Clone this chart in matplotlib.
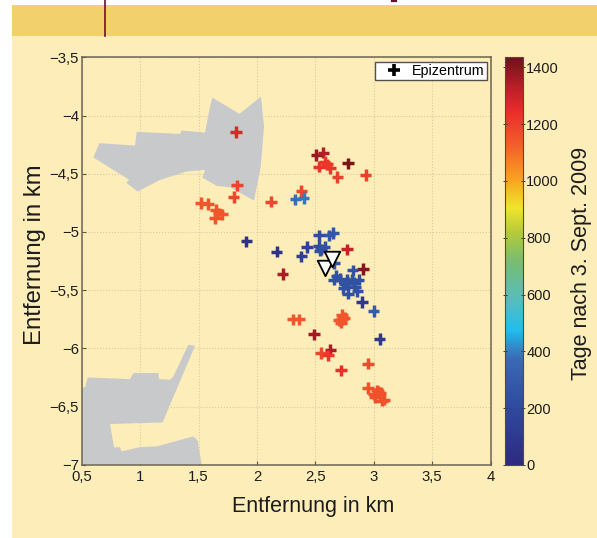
import matplotlib
matplotlib.use("Agg")
import matplotlib.pyplot as plt
from matplotlib.colors import LinearSegmentedColormap
from matplotlib.lines import Line2D
from matplotlib.patches import Polygon, Rectangle

plt.rcParams['font.family'] = ['Liberation Sans', 'DejaVu Sans']

# Epizentren: x, y in km, Tage nach 3. Sept. 2009
ev_x = [1.82, 1.83, 1.80, 1.52, 1.58, 1.65, 1.70, 1.64, 1.67, 2.12, 2.33, 2.51, 2.57, 2.78,
        2.58, 2.53, 2.60, 2.63, 2.69, 2.93, 2.38, 2.40, 2.53, 2.62, 2.65, 2.43, 2.53, 2.55,
        2.58, 2.54, 2.17, 2.38, 2.77, 2.22, 2.91, 2.66, 2.82, 2.68, 2.66, 2.71, 2.77, 2.81,
        2.87, 2.74, 2.78, 2.78, 2.84, 2.86, 2.75, 2.83, 2.90, 3.00, 3.05, 2.31, 2.36, 2.73,
        2.70, 2.75, 2.73, 2.72, 2.49, 2.63, 2.55, 2.61, 2.72, 2.95, 2.95, 3.03, 3.00, 3.06,
        3.01, 3.07, 3.04, 3.09, 1.91]
ev_y = [-4.14, -4.60, -4.70, -4.75, -4.76, -4.81, -4.85, -4.88, -4.84, -4.74, -4.72, -4.34,
        -4.32, -4.41, -4.40, -4.44, -4.42, -4.45, -4.53, -4.51, -4.65, -4.71, -5.03, -5.03,
        -5.01, -5.13, -5.12, -5.15, -5.13, -5.16, -5.17, -5.21, -5.15, -5.36, -5.32, -5.27,
        -5.33, -5.38, -5.41, -5.40, -5.41, -5.41, -5.41, -5.48, -5.44, -5.53, -5.47, -5.51,
        -5.45, -5.44, -5.60, -5.68, -5.92, -5.75, -5.75, -5.75, -5.76, -5.74, -5.71, -5.78,
        -5.88, -6.01, -6.04, -6.06, -6.19, -6.13, -6.34, -6.36, -6.39, -6.38, -6.42, -6.45,
        -6.37, -6.44, -5.08]
ev_days = [1270, 1190, 1180, 1150, 1150, 1150, 1150, 1150, 1150, 1180, 380, 1370, 1340, 1420,
           1220, 1230, 1220, 1220, 1200, 1200, 1180, 390, 220, 270, 270, 150, 220, 240,
           240, 240, 60, 130, 1310, 1350, 1400, 260, 240, 250, 250, 250, 240, 240,
           240, 240, 240, 240, 240, 240, 240, 240, 100, 300, 90, 1150, 1150, 1150,
           1150, 1150, 1150, 1150, 1360, 1350, 1180, 1220, 1240, 1170, 1160, 1160, 1160, 1160,
           1160, 1160, 1160, 1160, 60]

# Stationen (Dreiecke)
st_x = [2.58, 2.64]
st_y = [-5.31, -5.23]

# graue Flaechen
area1_x = [1.619, 1.85, 2.035, 2.061, 2.033, 1.975, 1.77, 1.656, 1.533, 1.556, 1.399, 1.171,
           0.979, 0.88, 0.908, 0.6, 0.651, 0.957, 0.971, 1.342, 1.356, 1.556, 1.599]
area1_y = [-3.846, -3.986, -3.838, -4.095, -4.438, -4.73, -4.616, -4.604, -4.533, -4.467,
           -4.481, -4.553, -4.653, -4.576, -4.553, -4.361, -4.238, -4.258, -4.141, -4.158,
           -4.129, -4.147, -3.923]
area2_x = [0.5, 0.529, 0.551, 0.914, 0.942, 1.156, 1.162, 1.256, 1.285, 1.413, 1.47, 1.193,
           0.743, 0.777, 0.828, 0.842, 1.0, 1.142, 1.456, 1.493, 1.527, 0.5]
area2_y = [-6.341, -6.333, -6.25, -6.264, -6.212, -6.212, -6.264, -6.27, -6.241, -5.969,
           -5.978, -6.636, -6.65, -6.851, -6.848, -6.885, -6.848, -6.842, -6.756, -6.791,
           -7.0, -7.0]

x_ticks = [0.5, 1, 1.5, 2, 2.5, 3, 3.5, 4]
x_labels = ['0,5', '1', '1,5', '2', '2,5', '3', '3,5', '4']
y_ticks = [-7, -6.5, -6, -5.5, -5, -4.5, -4, -3.5]
y_labels = ['\u22127', '\u22126,5', '\u22126', '\u22125,5', '\u22125', '\u22124,5', '\u22124', '\u22123,5']
cb_ticks = [0, 200, 400, 600, 800, 1000, 1200, 1400]
days_max = 1437

# Farbskala
cmap = LinearSegmentedColormap.from_list('tage', [
    (0.00, '#2e2a80'), (0.14, '#2f4a9e'), (0.26, '#3a6ab4'), (0.33, '#22bdee'),
    (0.40, '#55bdc0'), (0.50, '#79bd6e'), (0.57, '#b5ca3a'), (0.63, '#efe52a'),
    (0.70, '#f9a31f'), (0.78, '#f2622b'), (0.87, '#ea2a2a'), (0.93, '#b51f27'),
    (1.00, '#6e1219')])

W, H = 597, 538
fig = plt.figure(figsize=(W / 100, H / 100), dpi=100, facecolor='white')

# Seitenhintergrund
fig.add_artist(Rectangle((12 / W, 0), 585 / W, 1 - 4.5 / H, transform=fig.transFigure,
                         fc='#fdedb9', ec='none', zorder=-3))
fig.add_artist(Rectangle((12 / W, 1 - 36 / H), 585 / W, 31.5 / H, transform=fig.transFigure,
                         fc='#f2d06c', ec='none', zorder=-2))
fig.add_artist(Line2D([105 / W, 105 / W], [1 - 36 / H, 1], transform=fig.transFigure,
                      color='#6b1030', lw=1.2, zorder=-1))
fig.add_artist(Line2D([392 / W, 396 / W], [1 - 1 / H, 1 - 1 / H], transform=fig.transFigure,
                      color='#6b1030', lw=1.6, zorder=-1))

ax = fig.add_axes([81.7 / W, 1 - 464.8 / H, 408.8 / W, 407.5 / H])
ax.set_facecolor('none')
ax.add_patch(Polygon(list(zip(area1_x, area1_y)), fc='#c8c9cb', ec='none', zorder=1))
ax.add_patch(Polygon(list(zip(area2_x, area2_y)), fc='#c8c9cb', ec='none', zorder=1))

sc = ax.scatter(ev_x, ev_y, c=ev_days, cmap=cmap, vmin=0, vmax=days_max, marker='+',
                s=68, linewidths=2.5, zorder=3)
ax.scatter(st_x, st_y, marker='v', s=125, facecolor='white', edgecolor='black',
           linewidths=1.3, zorder=4)

ax.set_xlim(0.5, 4)
ax.set_ylim(-7, -3.5)
ax.set_xticks(x_ticks)
ax.set_xticklabels(x_labels)
ax.set_yticks(y_ticks)
ax.set_yticklabels(y_labels)
ax.grid(True, ls=':', lw=0.8, color='#d6cba3', zorder=0)
ax.set_axisbelow(True)
ax.tick_params(direction='in', length=3, width=0.8, color='#5d5648', labelsize=10.7,
               labelcolor='#1c1c1c')
ax.tick_params(axis='x', pad=4)
ax.tick_params(axis='y', pad=2)
for s in ax.spines.values():
    s.set_color('#6b6454')
    s.set_linewidth(1.1)
ax.set_xlabel('Entfernung in km', fontsize=15.5, color='#1c1c1c')
ax.xaxis.set_label_coords(0.566, -0.076)
ax.set_ylabel('Entfernung in km', fontsize=17.2, color='#1c1c1c')
ax.yaxis.set_label_coords(-0.088, 0.515)

handle = Line2D([], [], marker='+', color='black', ls='none', ms=8, mew=2.6)
ax.legend([handle], ['Epizentrum'], loc='upper right', bbox_to_anchor=(0.9907, 0.989),
          borderaxespad=0, fontsize=10.3, frameon=True, fancybox=False, framealpha=1,
          edgecolor='#55504a', borderpad=0.15, handletextpad=0.05, handlelength=2.4)

cax = fig.add_axes([504.5 / W, 1 - 465 / H, 18.2 / W, 408.3 / H])
cb = fig.colorbar(sc, cax=cax)
cb.set_ticks(cb_ticks)
cb.ax.tick_params(direction='inout', length=3, width=0.7, color='#3a3a3a', labelsize=10.5,
                  labelcolor='#1c1c1c', pad=1, right=True, left=True)
cb.outline.set_edgecolor('#4a4a4a')
cb.outline.set_linewidth(0.8)
fig.text(581 / W, 1 - 263 / H, 'Tage nach 3. Sept. 2009', rotation=90, fontsize=15.5,
         color='#1c1c1c', ha='center', va='center')

fig.savefig('out.png', dpi=100, facecolor='white')
